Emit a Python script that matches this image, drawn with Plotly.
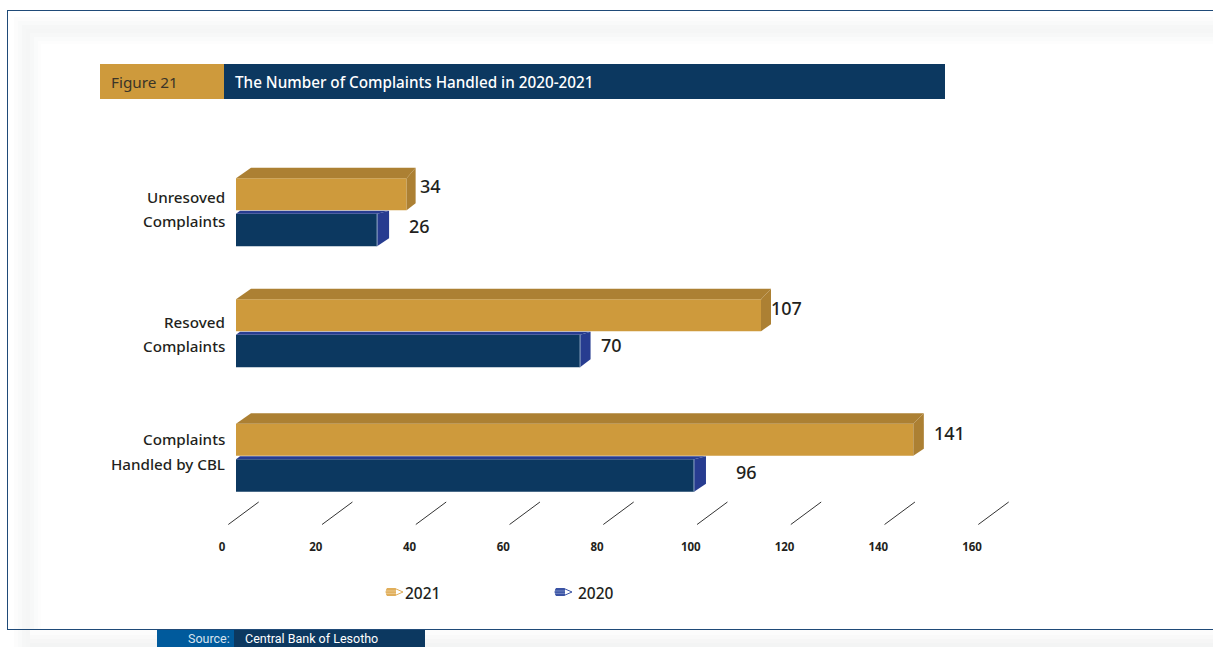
import plotly.graph_objects as go

W, H = 1213, 647
# ---- data ----
category_lines = [["Unresoved", "Complaints"], ["Resoved", "Complaints"], ["Complaints", "Handled by CBL"]]
categories = [" ".join(c) for c in category_lines]
labels_2021 = [34, 107, 141]
labels_2020 = [26, 70, 96]
# bar lengths as they read against the drawn axis
bars_2021 = [36.4, 112.0, 144.5]
bars_2020 = [30.1, 73.4, 97.7]
x_ticks = [0, 20, 40, 60, 80, 100, 120, 140, 160]
series_names = ["2021", "2020"]

# ---- colours ----
GOLD, GOLD_D, NAVY, BLUE, INK = "#CE9A3C", "#AC8033", "#0C3860", "#273C90", "#231F20"
FONT = "Noto Sans"

# ---- geometry of the plot area ----
ZERO = 236  # pixel column of value 0
L, R, T, B = 200, 1020, 150, 530
GROUP = 122.75
C0 = 212
PXU = 4.6875
xr = [(L - ZERO) / PXU, (R - ZERO) / PXU]
yr = [(B - C0) / GROUP, (T - C0) / GROUP]
dx = lambda p: p / PXU
dy = lambda p: p / GROUP
px = lambda p: (p - L) / (R - L)
py = lambda p: (B - p) / (B - T)
ypos = [0, 0.986, 2]
depth_2021 = [9, 10, 10.5]
depth_2020 = [12, 10.5, 12]

fig = go.Figure()
fig.add_bar(y=ypos, x=bars_2021, orientation="h", name=series_names[0], hovertext=categories,
            width=32 / GROUP, offset=-(18 + 15.75) / GROUP, marker=dict(color=GOLD, line_width=0))
fig.add_bar(y=ypos, x=bars_2020, orientation="h", name=series_names[1], hovertext=categories,
            width=32.5 / GROUP, offset=(18 - 16.25) / GROUP, marker=dict(color=NAVY, line_width=0))

OFF, HALF = 18 / GROUP, 16.25 / GROUP
TOP_2021 = 33.75 / GROUP


def face(xs, ys, color):
    fig.add_trace(go.Scatter(x=xs, y=ys, mode="lines", fill="toself", fillcolor=color, line=dict(width=0),
                             hoverinfo="skip", showlegend=False))


for i, y0 in enumerate(ypos):
    # 2021 solid: top and side
    top = y0 - TOP_2021
    bot = top + 32 / GROUP
    v = bars_2021[i]
    d = depth_2021[i]
    face([0, dx(15), v + dx(d), v], [top, top - dy(10.5), top - dy(10.5), top], GOLD_D)
    face([v, v + dx(d), v + dx(d), v], [top, top - dy(10.5), bot - dy(7), bot], GOLD_D)
    # 2020 solid: top sliver and side
    c = y0 + OFF
    v = bars_2020[i]
    d = depth_2020[i]
    face([0, dx(4), v + dx(d), v], [c - HALF, c - HALF - dy(3), c - HALF - dy(3), c - HALF], BLUE)
    face([v, v + dx(d), v + dx(d), v],
         [c - HALF, c - HALF - dy(3), c + HALF - dy(8), c + HALF], BLUE)
    fig.add_trace(go.Scatter(x=[v, v], y=[c - HALF, c + HALF], mode="lines", line=dict(color="#8FA6C4", width=1),
                             hoverinfo="skip", showlegend=False))

# slanted axis ticks
for t in x_ticks:
    fig.add_trace(go.Scatter(x=[t - dx(7.7), t + dx(22.7)], y=[(524.5 - C0) / GROUP, (502 - C0) / GROUP], mode="lines",
                             line=dict(color="#333333", width=1), hoverinfo="skip", showlegend=False))

ann = []
shapes = []


def rect(x0, y0, x1, y1, color):
    shapes.append(dict(type="rect", xref="paper", yref="paper", x0=px(x0), x1=px(x1), y0=py(y0), y1=py(y1),
                       fillcolor=color, line_width=0, layer="below"))


def text(x, y, s, size, color=INK, anchor="left", family=FONT, weight=None):
    f = dict(family=family, size=size, color=color)
    if weight:
        f["weight"] = weight
    ann.append(dict(xref="paper", yref="paper", x=px(x), y=py(y), text=s, showarrow=False, xanchor=anchor,
                    yanchor="middle", font=f, borderpad=0, borderwidth=0))


# soft page band
rect(8, 11, W, H, "#FFFFFF")
for inset, col in [(6, "#FCFCFC"), (10, "#F9FAFA"), (14, "#F6F7F7"), (18, "#F5F6F6"), (22, "#F7F8F8"),
                   (26, "#FAFBFB"), (30, "#FDFDFD"), (33, "#FFFFFF")]:
    rect(8 + inset, 11 + inset, W, H, col)
for y0, y1, col in [(630, 635, "#FCFCFC"), (635, 639, "#F9F9F9"), (639, 643, "#F6F6F6"), (643, 647, "#F3F4F4")]:
    rect(30, y0, W, y1, col)
rect(0, 630, 14, H, "#FFFFFF")
# frame
rect(7, 10, W, 11, "#1F4A78")
rect(7, 10, 8, 630, "#1F4A78")
rect(7, 629, W, 630, "#1F4A78")
# header
rect(100, 64, 224, 99, GOLD)
rect(224, 64, 945, 99, NAVY)
text(111, 82, "Figure 21", 15.3, "#3A3428")
text(235, 82, "The Number of Complaints Handled in 2020-2021", 15.25, "#FFFFFF", weight=500)
# source
rect(157, 630, 234, H, "#005A9C")
rect(234, 630, 425, H, NAVY)
text(230, 638, "Source:", 12.5, "#D7E3EF", anchor="right", family="Roboto")
text(245, 638, "Central Bank of Lesotho", 12.5, "#FFFFFF", family="Roboto")

# category labels, two lines each
label_rows = [(197, 221), (322, 346), (439, 464)]
for lines, rows in zip(category_lines, label_rows):
    for s, r in zip(lines, rows):
        text(225, r, s, 15.2, INK, anchor="right", weight=500)

# value labels
val_text = labels_2021 + labels_2020
val_len = bars_2021 + bars_2020
val_rows = [186, 308, 433, 226, 345, 472]
val_gap = [13.5, 9.5, 20.5, 31.5, 20.5, 42]
for t, v, g, r in zip(val_text, val_len, val_gap, val_rows):
    text(ZERO + v * PXU + g, r, str(t), 18, INK, weight=500)


# legend: pencil swatches and labels
def pencil(x, y, body, stripe):
    shapes.append(dict(type="path", xref="paper", yref="paper",
                       path=f"M {px(x+1)} {py(y-3.5)} L {px(x+9)} {py(y-3.5)} L {px(x+17)} {py(y)} L {px(x+9)} {py(y+3.5)} L {px(x+1)} {py(y+3.5)} Q {px(x-1)} {py(y)} {px(x+1)} {py(y-3.5)} Z",
                       fillcolor="#FFFFFF", line=dict(color=body, width=1), layer="below"))
    shapes.append(dict(type="path", xref="paper", yref="paper",
                       path=f"M {px(x+1)} {py(y-3.5)} L {px(x+10)} {py(y-3.5)} L {px(x+10)} {py(y+3.5)} L {px(x+1)} {py(y+3.5)} Q {px(x-1)} {py(y)} {px(x+1)} {py(y-3.5)} Z",
                       fillcolor=body, line_width=0, layer="below"))
    rect(x, y - 1.4, x + 10, y - 0.7, stripe)
    rect(x, y + 0.9, x + 10, y + 1.6, stripe)


pencil(386, 592, "#E0AE5B", "#F0D5A4")
pencil(555, 592, "#3A53A4", "#8FA0D0")
text(405, 593, series_names[0], 15.5, INK, weight=500)
text(578, 593, series_names[1], 15.5, INK, weight=500)

fig.update_layout(
    width=W, height=H, autosize=False, showlegend=False, paper_bgcolor="#FFFFFF", plot_bgcolor="rgba(0,0,0,0)",
    margin=dict(l=L, r=W - R, t=T, b=H - B, pad=0),
    annotations=ann, shapes=shapes,
    xaxis=dict(range=xr, tickvals=x_ticks, showgrid=False, zeroline=False, showline=False, ticks="",
               ticklabelshift=-14, ticklabelstandoff=8,
               tickfont=dict(family=FONT, size=11.5, color=INK, weight=700)),
    yaxis=dict(range=yr, tickvals=ypos, ticktext=categories, showticklabels=False,
               showgrid=False, zeroline=False, showline=False, ticks=""),
)

fig.write_html("out.html", config=dict(displayModeBar=False),
               post_script="document.body.style.margin='0';document.documentElement.style.overflow='hidden';")
